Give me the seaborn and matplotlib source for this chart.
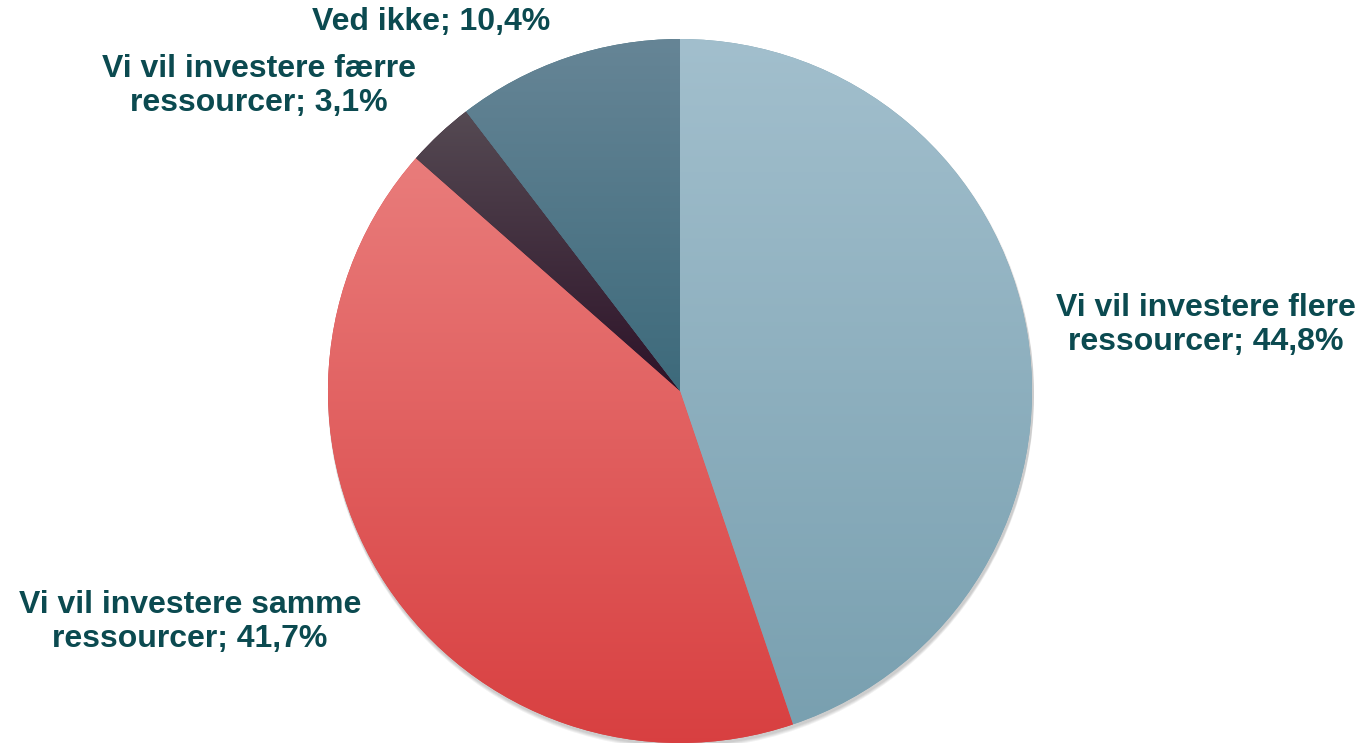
import numpy as np
import matplotlib
matplotlib.use("Agg")
import matplotlib.pyplot as plt
import matplotlib.colors as mcolors
import seaborn as sns

labels = ["Vi vil investere flere\nressourcer", "Vi vil investere samme\nressourcer",
          "Vi vil investere færre\nressourcer", "Ved ikke"]
values = [44.8, 41.7, 3.1, 10.4]
top_colors = ["#A2BFCD", "#E97C7B", "#554A53", "#668596"]
bottom_colors = ["#79A0B0", "#D83F40", "#2D1228", "#3D6A7B"]
label_pos = [(1206, 325), (190, 622), (259, 86), (431, 22)]
text_color = "#0B4A50"

sns.set_theme(style="white")
plt.rcParams["font.family"] = ["Liberation Sans", "DejaVu Sans"]

W, H = 1359, 743
cx, cy, r = 680, 391, 352

fig = plt.figure(figsize=(W / 100, H / 100), dpi=100)
ax = fig.add_axes([0, 0, 1, 1])

# soft shadow
for k in range(4):
    sh = plt.Circle((cx + 1, H - cy - 2 - k), r + 1, color="black", alpha=0.05, lw=0)
    ax.add_patch(sh)

wedges, _ = ax.pie(values, startangle=90, counterclock=False, radius=r,
                   center=(cx, H - cy), frame=True,
                   wedgeprops=dict(linewidth=0, edgecolor="none"))
ax.set_xlim(0, W)
ax.set_ylim(0, H)
ax.set_aspect("equal")
ax.axis("off")

# vertical gradient per slice
for w, c0, c1 in zip(wedges, top_colors, bottom_colors):
    verts = w.get_path().vertices
    ymin, ymax = verts[:, 1].min(), verts[:, 1].max()
    xmin, xmax = verts[:, 0].min(), verts[:, 0].max()
    cmap = mcolors.LinearSegmentedColormap.from_list("g", [c1, c0])
    grad = np.linspace(0, 1, 256).reshape(-1, 1)
    im = ax.imshow(grad, cmap=cmap, origin="lower", aspect="auto",
                   extent=(xmin, xmax, ymin, ymax), zorder=w.get_zorder() + 0.1)
    im.set_clip_path(w)
    w.set_facecolor(c1)

for lab, v, (x, y) in zip(labels, values, label_pos):
    txt = "{}; {}%".format(lab, str(v).replace(".", ","))
    ax.text(x, H - y, txt, ha="center", va="center", fontsize=23,
            fontweight="bold", color=text_color, linespacing=1.2, zorder=10)

ax.set_xlim(0, W)
ax.set_ylim(0, H)
fig.savefig("out.png", dpi=100)
